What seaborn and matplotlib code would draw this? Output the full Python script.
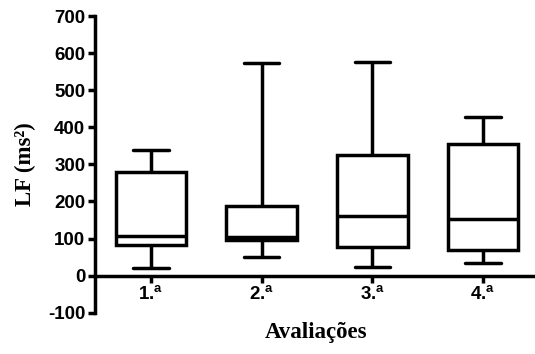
import matplotlib
matplotlib.use("Agg")
import matplotlib.pyplot as plt
import seaborn as sns
import pandas as pd

# Five-number summaries (min, Q1, median, Q3, max) of LF for each assessment
avaliacoes = ["1.ª", "2.ª", "3.ª", "4.ª"]
tick_labels = [r"1.$^{\mathbf{a}}$", r"2.$^{\mathbf{a}}$", r"3.$^{\mathbf{a}}$", r"4.$^{\mathbf{a}}$"]
lf_min = [20, 50, 24, 35]
lf_q1 = [82, 95, 77, 70]
lf_median = [106, 104, 160, 153]
lf_q3 = [280, 187, 325, 355]
lf_max = [340, 572, 577, 428]

rows = []
for i, a in enumerate(avaliacoes):
    for v in (lf_min[i], lf_q1[i], lf_median[i], lf_q3[i], lf_max[i]):
        rows.append({"Avaliação": a, "LF": v})
df = pd.DataFrame(rows)

sns.set_style("ticks")
plt.rcParams["mathtext.fontset"] = "custom"
plt.rcParams["mathtext.bf"] = "Liberation Sans:bold"
plt.rcParams["mathtext.rm"] = "Liberation Sans:bold"
plt.rcParams["axes.unicode_minus"] = False
plt.rcParams["text.color"] = "black"
plt.rcParams["xtick.color"] = "black"
plt.rcParams["ytick.color"] = "black"
plt.rcParams["axes.edgecolor"] = "black"

fig = plt.figure(figsize=(5.35, 3.54), dpi=100)
ax = fig.add_axes([0.1776, 0.1167, 0.8205, 0.8381])

lw = 2.5
sns.boxplot(data=df, x="Avaliação", y="LF", order=avaliacoes, whis=(0, 100),
            width=0.64, color="white", linecolor="black", linewidth=lw,
            fliersize=0, ax=ax)

ax.set_xlim(-0.506, 3.46)
ax.set_ylim(-100, 700)
ax.set_yticks(range(-100, 701, 100))
ax.set_xticks(range(len(avaliacoes)))
ax.set_xticklabels(tick_labels)

for side in ("top", "right"):
    ax.spines[side].set_visible(False)
ax.spines["bottom"].set_position(("data", 0))
ax.spines["left"].set_linewidth(lw)
ax.spines["bottom"].set_linewidth(lw)
ax.spines["left"].set_color("black")
ax.spines["bottom"].set_color("black")
ax.spines["left"].set_capstyle("projecting")

ax.tick_params(axis="both", direction="out", length=5, width=lw, colors="black",
               labelsize=13.5, pad=2)
for t in ax.get_yticklabels() + ax.get_xticklabels():
    t.set_fontfamily("Liberation Sans")
    t.set_fontweight("bold")
    t.set_color("black")

ax.set_xlabel("")
ax.set_ylabel("")
fig.text(0.047, 0.535, "LF (ms²)", rotation=90, ha="center", va="center",
         fontfamily="Liberation Serif", fontweight="bold", fontsize=16.5,
         color="black")
fig.text(0.59, 0.062, "Avaliações", ha="center", va="center",
         fontfamily="Liberation Serif", fontweight="bold", fontsize=16.5,
         color="black")

fig.savefig("out.png", dpi=100)
